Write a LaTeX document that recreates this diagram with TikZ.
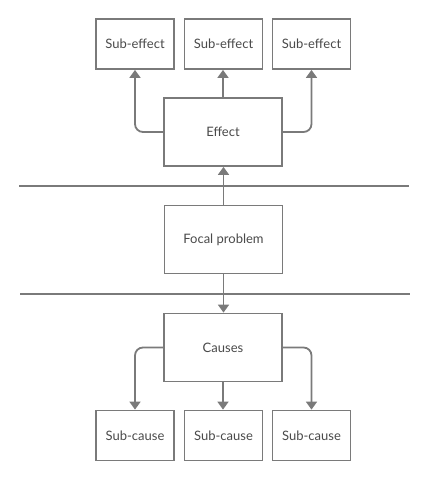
\documentclass[tikz,border=0pt]{standalone}
\usepackage{fontspec}
\setmainfont{Lato}
\usetikzlibrary{arrows.meta}
\definecolor{linec}{HTML}{7A7A7A}
\definecolor{textc}{HTML}{4A4A4A}
\tikzset{
  box/.style={draw=linec, line width=1.8pt, fill=white, inner sep=0pt, text=textc, font=\fontsize{13}{15}\selectfont},
  small/.style={box, minimum width=78pt, minimum height=50pt},
  big/.style={box, minimum width=118pt, minimum height=68pt},
  arr/.style={draw=linec, line width=1.8pt, rounded corners=8pt, -{Triangle[length=8pt,width=11pt]}},
  sep/.style={draw=linec, line width=1.8pt}
}
\begin{document}
\begin{tikzpicture}[x=1pt,y=-1pt]
\useasboundingbox (0,0) rectangle (429,480);
\node[small] (se1) at (135,44) {Sub-effect};
\node[small] (se2) at (223.5,44) {Sub-effect};
\node[small] (se3) at (311.5,44) {Sub-effect};
\node[big] (eff) at (223,132) {Effect};
\node[big] (foc) at (223.5,239.5) {Focal problem};
\node[big] (cau) at (223,347.5) {Causes};
\node[small] (sc1) at (135,435.5) {Sub-cause};
\node[small] (sc2) at (223.5,435.5) {Sub-cause};
\node[small] (sc3) at (311.5,435.5) {Sub-cause};
\coordinate (l1a) at (19,186);
\coordinate (l1b) at (409,186);
\coordinate (l2a) at (20,294);
\coordinate (l2b) at (410,294);
\draw[sep] (l1a) -- (l1b);
\draw[sep] (l2a) -- (l2b);
\draw[arr] (eff.north) -- (eff.north |- se2.south);
\draw[arr] (eff.west) -| (se1.south);
\draw[arr] (eff.east) -| (se3.south);
\draw[arr] (foc.north) -- (foc.north |- eff.south);
\draw[arr] (foc.south) -- (foc.south |- cau.north);
\draw[arr] (cau.west) -| (sc1.north);
\draw[arr] (cau.south) -- (cau.south |- sc2.north);
\draw[arr] (cau.east) -| (sc3.north);
\end{tikzpicture}
\end{document}
